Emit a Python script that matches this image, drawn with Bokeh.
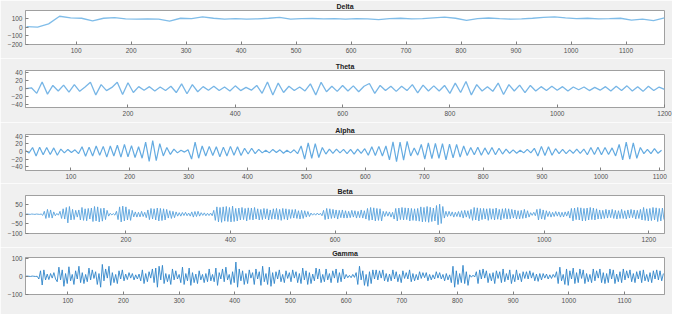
from bokeh.plotting import figure
from bokeh.layouts import column
from bokeh.models import Range1d, FixedTicker
from bokeh.embed import file_html
from bokeh.resources import INLINE

# ---------------- data ----------------
delta_start, delta_step = 10, 20
delta_values = [8, 2, 40, 128, 110, 105, 75, 105, 112, 98, 95, 98, 95, 72, 105, 100, 120, 105, 95, 100,
                95, 98, 105, 115, 95, 100, 102, 98, 100, 95, 100, 98, 88, 100, 105, 98, 100, 110, 118, 105,
                80, 100, 108, 100, 95, 98, 105, 115, 122, 110, 100, 105, 98, 100, 105, 82, 95, 78, 110]
delta_xticks = [100, 200, 300, 400, 500, 600, 700, 800, 900, 1000, 1100]
delta_yticks = [-200, -100, 0, 100]

theta_start, theta_step = 10, 10
theta_values = [0, 2, -12, 17, -14, 8, -6, 9, -9, 10, -7, 4, 16, -16, 10, -5, 3, 16, -15, 15,
                -10, 5, -4, 5, -6, 4, -5, 6, -10, 12, -13, 10, -8, 5, -4, 6, -5, 4, -6, 7,
                -5, 3, -4, 8, -12, 17, -16, 14, -10, 6, -5, 4, -6, 12, -16, 16, -8, 6, -7, 8,
                -6, 7, -8, 6, 13, -12, 8, -5, 6, -7, 6, -5, 10, -11, 9, -6, 7, -6, 8, -12,
                14, -10, 18, -16, 10, -6, 5, -7, 14, -15, 10, -6, 9, -10, 8, -6, 5, -5, 6, -4,
                5, -6, 4, -3, 4, -5, 3, -4, 5, -6, 6, -5, 7, -6, 5, -7, 6, -5, 4, -2]
theta_xticks = [200, 400, 600, 800, 1000, 1200]
theta_yticks = [-40, -20, 0, 20, 40]

alpha_start, alpha_step = 23, 6
alpha_values = [2, -4, 10, -12, 11, -9, 10, -8, 9, -10, 6, -4, 5, -3, 4, -6, 12, -13, 11, -12,
                14, -10, 13, -15, 14, -12, 16, -15, 18, -14, 15, -16, 12, -18, 24, -26, 28, -24, 20, -12,
                10, -8, 6, -4, 3, -2, 4, -20, 24, -18, 14, -12, 13, -11, 12, -14, 11, -12, 13, -10,
                12, -11, 8, -7, 8, -6, 5, -4, 3, -4, 5, -3, 4, -5, 3, -4, 4, -6, 14, -20,
                22, -18, 20, -16, 10, -7, 6, -5, 6, -4, 5, -6, 5, -7, 6, -5, 7, -10, 12, -11,
                13, -12, 14, -22, 25, -27, 24, -23, 26, -12, 9, -10, 18, -20, 22, -19, 21, -18, 20, -22,
                19, -17, 18, -15, 14, -11, 10, -9, 11, -10, 9, -8, 10, -9, 8, -7, 6, -5, 4, -5,
                3, -4, 5, -4, 8, -12, 13, -11, 12, -10, 7, -6, 5, -6, 4, -5, 6, -5, 6, -9,
                10, -8, 11, -9, 10, -8, 9, -12, 18, -22, 24, -20, 22, -18, 10, -6, 5, -6, 7, -5,
                3]
alpha_xticks = [100, 200, 300, 400, 500, 600, 700, 800, 900, 1000, 1100]
alpha_yticks = [-40, -20, 0, 20, 40]

beta_start, beta_step = 8, 3
beta_values = [
    0, 1, 0, -1, 1, 0, -1, 1, 0, -1,
    1, -6, 15, -22, 25, -18, 22, -20, 12, -8,
    4, -5, 15, -22, 28, -25, 35, -45, 40, -30,
    25, -28, 20, -15, 22, -30, 35, -32, 28, -34,
    30, -25, 32, -38, 40, -35, 38, -40, 30, -36,
    32, -28, 20, -10, 5, -4, 3, -5, 15, -28,
    38, -40, 42, -35, 38, -30, 25, -32, 20, -14,
    12, -15, 10, -14, 15, -12, 10, -18, 22, -28,
    30, -25, 28, -30, 32, -35, 30, -33, 28, -30,
    25, -20, 18, -22, 15, -18, 12, -10, 8, -10,
    9, -7, 10, -8, 6, -10, 12, -15, 14, -12,
    15, -10, 8, -6, 7, -8, 5, -7, 6, -8,
    20, -32, 38, -40, 35, -42, 38, -36, 40, -38,
    35, -40, 42, -38, 30, -35, 32, -30, 35, -28,
    30, -35, 33, -28, 32, -30, 35, -25, 28, -30,
    25, -28, 30, -24, 28, -30, 22, -26, 28, -25,
    30, -28, 25, -32, 30, -26, 28, -30, 25, -22,
    24, -20, 25, -22, 18, -25, 20, -22, 18, -15,
    14, -12, 6, -5, 4, -5, 6, -4, 5, -8,
    20, -28, 30, -25, 28, -22, 25, -20, 22, -25,
    20, -18, 22, -20, 18, -20, 15, -18, 20, -15,
    18, -20, 15, -18, 22, -20, 18, -25, 30, -32,
    35, -30, 33, -35, 30, -32, 28, -35, 15, -12,
    14, -10, 12, -15, 10, -25, 30, -35, 32, -28,
    35, -30, 33, -28, 32, -35, 30, -32, 28, -34,
    30, -36, 38, -40, 35, -38, 40, -42, 36, -38,
    32, -35, 45, -55, 52, -48, 40, -20, 15, -12,
    15, -10, 12, -15, 10, -12, 14, -15, 18, -20,
    20, -15, 18, -22, 25, -32, 35, -30, 33, -35,
    30, -28, 30, -25, 28, -32, 30, -26, 28, -30,
    32, -26, 25, -30, 28, -22, 30, -25, 28, -24,
    25, -20, 22, -25, 18, -24, 20, -22, 25, -20,
    18, -15, 8, -6, 10, -8, 25, -30, 28, -25,
    22, -28, 18, -12, 14, -15, 10, -12, 14, -10,
    12, -15, 10, -14, 12, -10, 15, -20, 30, -35,
    32, -28, 35, -30, 33, -35, 30, -34, 32, -30,
    35, -28, 32, -30, 28, -25, 22, -25, 20, -22,
    25, -20, 22, -18, 25, -22, 20, -25, 18, -22,
    25, -22, 18, -25, 22, -20, 25, -18, 22, -25,
    20, -22, 25, -30, 35, -32, 28, -35, 30, -33,
    35, -30, 33, -38, 30, -35, 32, -28]
beta_xticks = [200, 400, 600, 800, 1000, 1200]
beta_yticks = [-100, -50, 0, 50]

gamma_start, gamma_step = 24, 3
gamma_values = [
    0, 1, 0, -1, 1, 0, -1, 0, -15, 30,
    -48, 35, -20, 12, -18, 15, -10, 20, -15, -30,
    50, -20, 35, -55, 15, -40, 52, -25, 10, -45,
    30, -15, 55, -35, 20, -40, 10, -30, 45, -20,
    35, -12, 25, -45, 15, -60, 65, -25, 40, -10,
    55, -50, 20, -35, 10, -40, 30, -15, 35, -25,
    12, -18, 20, -10, 15, -20, 8, -15, 12, -25,
    35, -40, 15, -30, 25, -10, 40, -35, 45, -60,
    55, -20, 60, -40, 15, -30, 10, -45, 40, -20,
    30, -15, 10, -35, 50, -45, 15, -25, 45, -50,
    20, -35, 12, -40, 30, -20, 10, -35, 15, -30,
    40, -25, 10, -30, 45, -50, 20, -15, 40, -30,
    50, -20, 10, -45, 25, -35, 78, -60, 40, -25,
    30, -45, 15, -40, 35, -10, 20, -45, 40, -15,
    25, -50, 55, -30, 15, -45, 50, -55, 20, -40,
    25, -15, 35, -30, 10, -35, 30, -12, 20, -30,
    35, -10, 25, -35, 15, -40, 45, -20, 30, -45,
    20, -40, 12, -25, 45, -15, 40, -35, 10, -30,
    40, -20, 15, -35, 30, -10, 40, -35, 20, -30,
    40, -15, 10, -8, 5, -8, 10, -6, 20, -45,
    55, -20, 30, -50, 10, -55, 25, -40, 35, -15,
    35, -20, 30, -10, 35, -25, 15, -30, 12, -25,
    35, -15, 25, -30, 10, -35, 30, -12, 20, -15,
    35, -30, 15, -25, 10, -20, 25, -12, 20, -8,
    20, -25, 10, -20, 8, -15, 25, -10, 20, -15,
    10, -25, 15, -20, 8, -35, 55, -60, 30, -45,
    15, -35, 60, -40, 25, -50, 8, -5, 6, -4,
    25, -40, 35, -15, 40, -10, 30, -35, 15, -25,
    20, -40, 30, -12, 25, -35, 40, -30, 15, -20,
    35, -40, 10, -30, 35, -20, 15, -30, 25, -12,
    25, -15, 30, -10, 20, -25, 12, -28, 15, -20,
    15, -10, 12, -15, 8, -12, 10, -6, 25, -40,
    50, -25, 10, -45, 40, -50, 30, -15, 45, -40,
    20, -35, 40, -12, 35, -40, 15, -30, 10, -35,
    40, -25, 30, -10, 40, -35, 20, -40, 15, -35,
    40, -15, 35, -40, 12, -30, 25, -35, 40, -20,
    30, -10, 35, -30, 15, -35, 25, -15, 30, -35,
    35, -25, 10, -30, 20, -35, 30, -15, 35, -20,
    30, -25, 15]
gamma_xticks = [100, 200, 300, 400, 500, 600, 700, 800, 900, 1000, 1100]
gamma_yticks = [-100, 0, 100]

# ---------------- layout / style ----------------
panels = [
    dict(title="Delta", start=delta_start, step=delta_step, values=delta_values,
         xr=(8, 1170), yr=(-200, 195), xt=delta_xticks, yt=delta_yticks,
         color="#80bde9", lw=1.3, h=58, top=9, bottom=14),
    dict(title="Theta", start=theta_start, step=theta_step, values=theta_values,
         xr=(9, 1200), yr=(-48, 46), xt=theta_xticks, yt=theta_yticks,
         color="#78b6e6", lw=1.3, h=64, top=12, bottom=15),
    dict(title="Alpha", start=alpha_start, step=alpha_step, values=alpha_values,
         xr=(23, 1108), yr=(-50, 44), xt=alpha_xticks, yt=alpha_yticks,
         color="#64abe1", lw=1.2, h=61, top=12, bottom=13),
    dict(title="Beta", start=beta_start, step=beta_step, values=beta_values,
         xr=(8, 1230), yr=(-100, 97), xt=beta_xticks, yt=beta_yticks,
         color="#57a2dc", lw=0.9, h=64, top=12, bottom=14),
    dict(title="Gamma", start=gamma_start, step=gamma_step, values=gamma_values,
         xr=(24, 1172), yr=(-100, 103), xt=gamma_xticks, yt=gamma_yticks,
         color="#2f84ca", lw=0.9, h=67, top=10, bottom=20),
]

BG = "#f0f0f0"
EDGE = "#a0a0a0"
TICK = "#808080"
LABEL = "#505050"
FONT = "Liberation Sans"


def style_axis(ax):
    ax.major_tick_in = 3
    ax.major_tick_out = 0
    ax.minor_tick_line_color = None
    ax.major_tick_line_color = TICK
    ax.axis_line_color = EDGE
    ax.major_label_text_font = FONT
    ax.major_label_text_color = LABEL
    ax.major_label_text_font_size = "6.5px"
    ax.major_label_standoff = 3


figs = []
for pn in panels:
    p = figure(width=672, height=pn["h"], output_backend="svg", toolbar_location=None,
               x_range=Range1d(*pn["xr"]), y_range=Range1d(*pn["yr"]),
               min_border_left=25, min_border_right=8,
               min_border_top=pn["top"], min_border_bottom=pn["bottom"],
               background_fill_color="white", border_fill_color=BG,
               outline_line_color=EDGE, title=pn["title"])
    p.title.text_font = FONT
    p.title.text_font_size = "7px"
    p.title.text_font_style = "bold"
    p.title.text_color = "#202020"
    p.title.align = "center"
    p.title.standoff = 1
    p.xgrid.visible = False
    p.ygrid.visible = False
    p.xaxis.ticker = FixedTicker(ticks=pn["xt"])
    p.yaxis.ticker = FixedTicker(ticks=pn["yt"])
    style_axis(p.xaxis[0])
    style_axis(p.yaxis[0])

    xs = [pn["start"] + pn["step"] * i for i in range(len(pn["values"]))]
    p.line(xs, pn["values"], line_color=pn["color"], line_width=pn["lw"])
    figs.append(p)

layout = column(*figs, spacing=0)
open("out.html", "w").write(file_html(layout, INLINE))
